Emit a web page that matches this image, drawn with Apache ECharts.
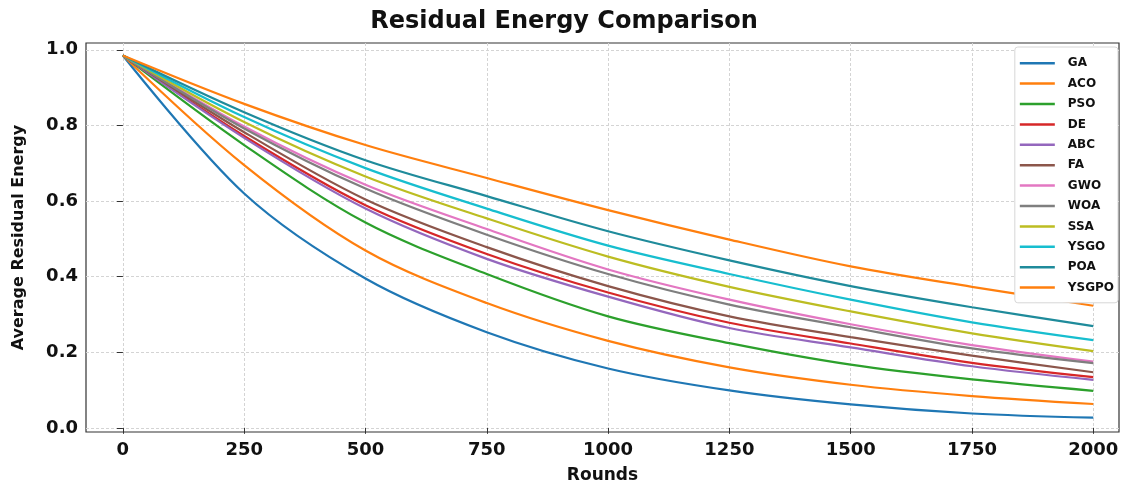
<!DOCTYPE html>
<html>
<head>
<meta charset="utf-8">
<script src="https://cdn.jsdelivr.net/npm/echarts@6/dist/echarts.min.js"></script>
<style>
  html, body { margin: 0; padding: 0; background: #fff; }
  #chart-wrap { width: 1128px; height: 489px; }
</style>
</head>
<body>
<div id="chart-wrap"></div>
<script>
  const rounds = [0, 250, 500, 750, 1000, 1250, 1500, 1750, 2000]
  const xTicks = [0, 250, 500, 750, 1000, 1250, 1500, 1750, 2000]
  const yTicks = [0, 0.2, 0.4, 0.6, 0.8, 1.0]

  const GA = [0.985, 0.620, 0.395, 0.253, 0.157, 0.099, 0.062, 0.038, 0.027]
  const ACO = [0.985, 0.695, 0.469, 0.330, 0.230, 0.160, 0.114, 0.084, 0.063]
  const PSO = [0.985, 0.748, 0.543, 0.407, 0.295, 0.224, 0.167, 0.128, 0.098]
  const DE = [0.985, 0.772, 0.589, 0.460, 0.358, 0.278, 0.223, 0.172, 0.134]
  const ABC = [0.985, 0.767, 0.580, 0.447, 0.347, 0.264, 0.213, 0.163, 0.127]
  const FA = [0.985, 0.782, 0.604, 0.478, 0.375, 0.295, 0.240, 0.191, 0.147]
  const GWO = [0.985, 0.797, 0.643, 0.526, 0.419, 0.339, 0.274, 0.219, 0.175]
  const WOA = [0.985, 0.792, 0.633, 0.511, 0.407, 0.326, 0.266, 0.210, 0.171]
  const SSA = [0.985, 0.809, 0.665, 0.554, 0.453, 0.373, 0.308, 0.250, 0.203]
  const YSGO = [0.985, 0.822, 0.687, 0.580, 0.482, 0.407, 0.339, 0.279, 0.232]
  const POA = [0.985, 0.835, 0.708, 0.613, 0.520, 0.443, 0.375, 0.319, 0.269]
  const YSGPO = [0.985, 0.857, 0.748, 0.661, 0.576, 0.498, 0.427, 0.373, 0.323]

  const names = ['GA', 'ACO', 'PSO', 'DE', 'ABC', 'FA', 'GWO', 'WOA', 'SSA', 'YSGO', 'POA', 'YSGPO']
  const values = [GA, ACO, PSO, DE, ABC, FA, GWO, WOA, SSA, YSGO, POA, YSGPO]
  const colors = ['#1f77b4', '#ff7f0e', '#2ca02c', '#d62728', '#9467bd', '#8c564b',
    '#e377c2', '#7f7f7f', '#bcbd22', '#17becf', '#1f8b9b', '#ff7f0e']

  const font = 'DejaVu Sans'

  const mychart = echarts.init(document.querySelector('#chart-wrap'))
  const options = {
    animation: false,
    color: colors,
    title: {
      text: 'Residual Energy Comparison',
      left: 'center',
      top: 5,
      textStyle: { fontFamily: font, fontSize: 24, fontWeight: 'bold', color: '#111' }
    },
    legend: {
      data: names,
      orient: 'vertical',
      right: 10,
      top: 47,
      icon: 'rect',
      itemWidth: 35,
      itemHeight: 2.5,
      itemGap: 6,
      padding: [9, 4, 8, 5],
      backgroundColor: '#fff',
      borderColor: '#d6d6d6',
      borderWidth: 1,
      borderRadius: 3,
      textStyle: {
        fontFamily: font, fontSize: 12, fontWeight: 'bold', color: '#111',
        lineHeight: 14.4, padding: [0, 0, 0, 8]
      }
    },
    grid: {
      left: 86,
      top: 43,
      right: 9,
      bottom: 52,
      show: true,
      borderColor: '#333',
      borderWidth: 1.2
    },
    xAxis: {
      type: 'value',
      min: -76,
      max: 2053,
      name: 'Rounds',
      nameLocation: 'middle',
      nameGap: 35,
      nameTextStyle: { fontFamily: font, fontSize: 17, fontWeight: 'bold', color: '#111' },
      axisLine: { show: false },
      axisTick: { show: true, length: 6, customValues: xTicks, lineStyle: { color: '#333' } },
      axisLabel: {
        customValues: xTicks,
        margin: 9,
        fontFamily: font,
        fontSize: 18,
        fontWeight: 'bold',
        color: '#111',
        formatter: (v) => String(v)
      },
      splitLine: { show: true, lineStyle: { color: '#d4d4d4', type: [3, 2], width: 1 } }
    },
    yAxis: {
      type: 'value',
      min: -0.011,
      max: 1.018,
      name: 'Average Residual Energy',
      nameLocation: 'middle',
      nameGap: 59,
      nameTextStyle: { fontFamily: font, fontSize: 16, fontWeight: 'bold', color: '#111' },
      axisLine: { show: false },
      axisTick: { show: true, length: 6, customValues: yTicks, lineStyle: { color: '#333' } },
      axisLabel: {
        customValues: yTicks,
        margin: 8,
        fontFamily: font,
        fontSize: 18,
        fontWeight: 'bold',
        color: '#111',
        formatter: (v) => v.toFixed(1)
      },
      splitLine: { show: true, lineStyle: { color: '#d4d4d4', type: [3, 2], width: 1 } }
    },
    series: names.map((name, i) => ({
      name,
      type: 'line',
      smooth: 0.33,
      symbol: 'none',
      lineStyle: { width: 2.2 },
      data: rounds.map((r, j) => [r, values[i][j]])
    }))
  }
  mychart.setOption(options)
  window.addEventListener('resize', function () {
    mychart.resize()
  })
</script>
</body>
</html>
